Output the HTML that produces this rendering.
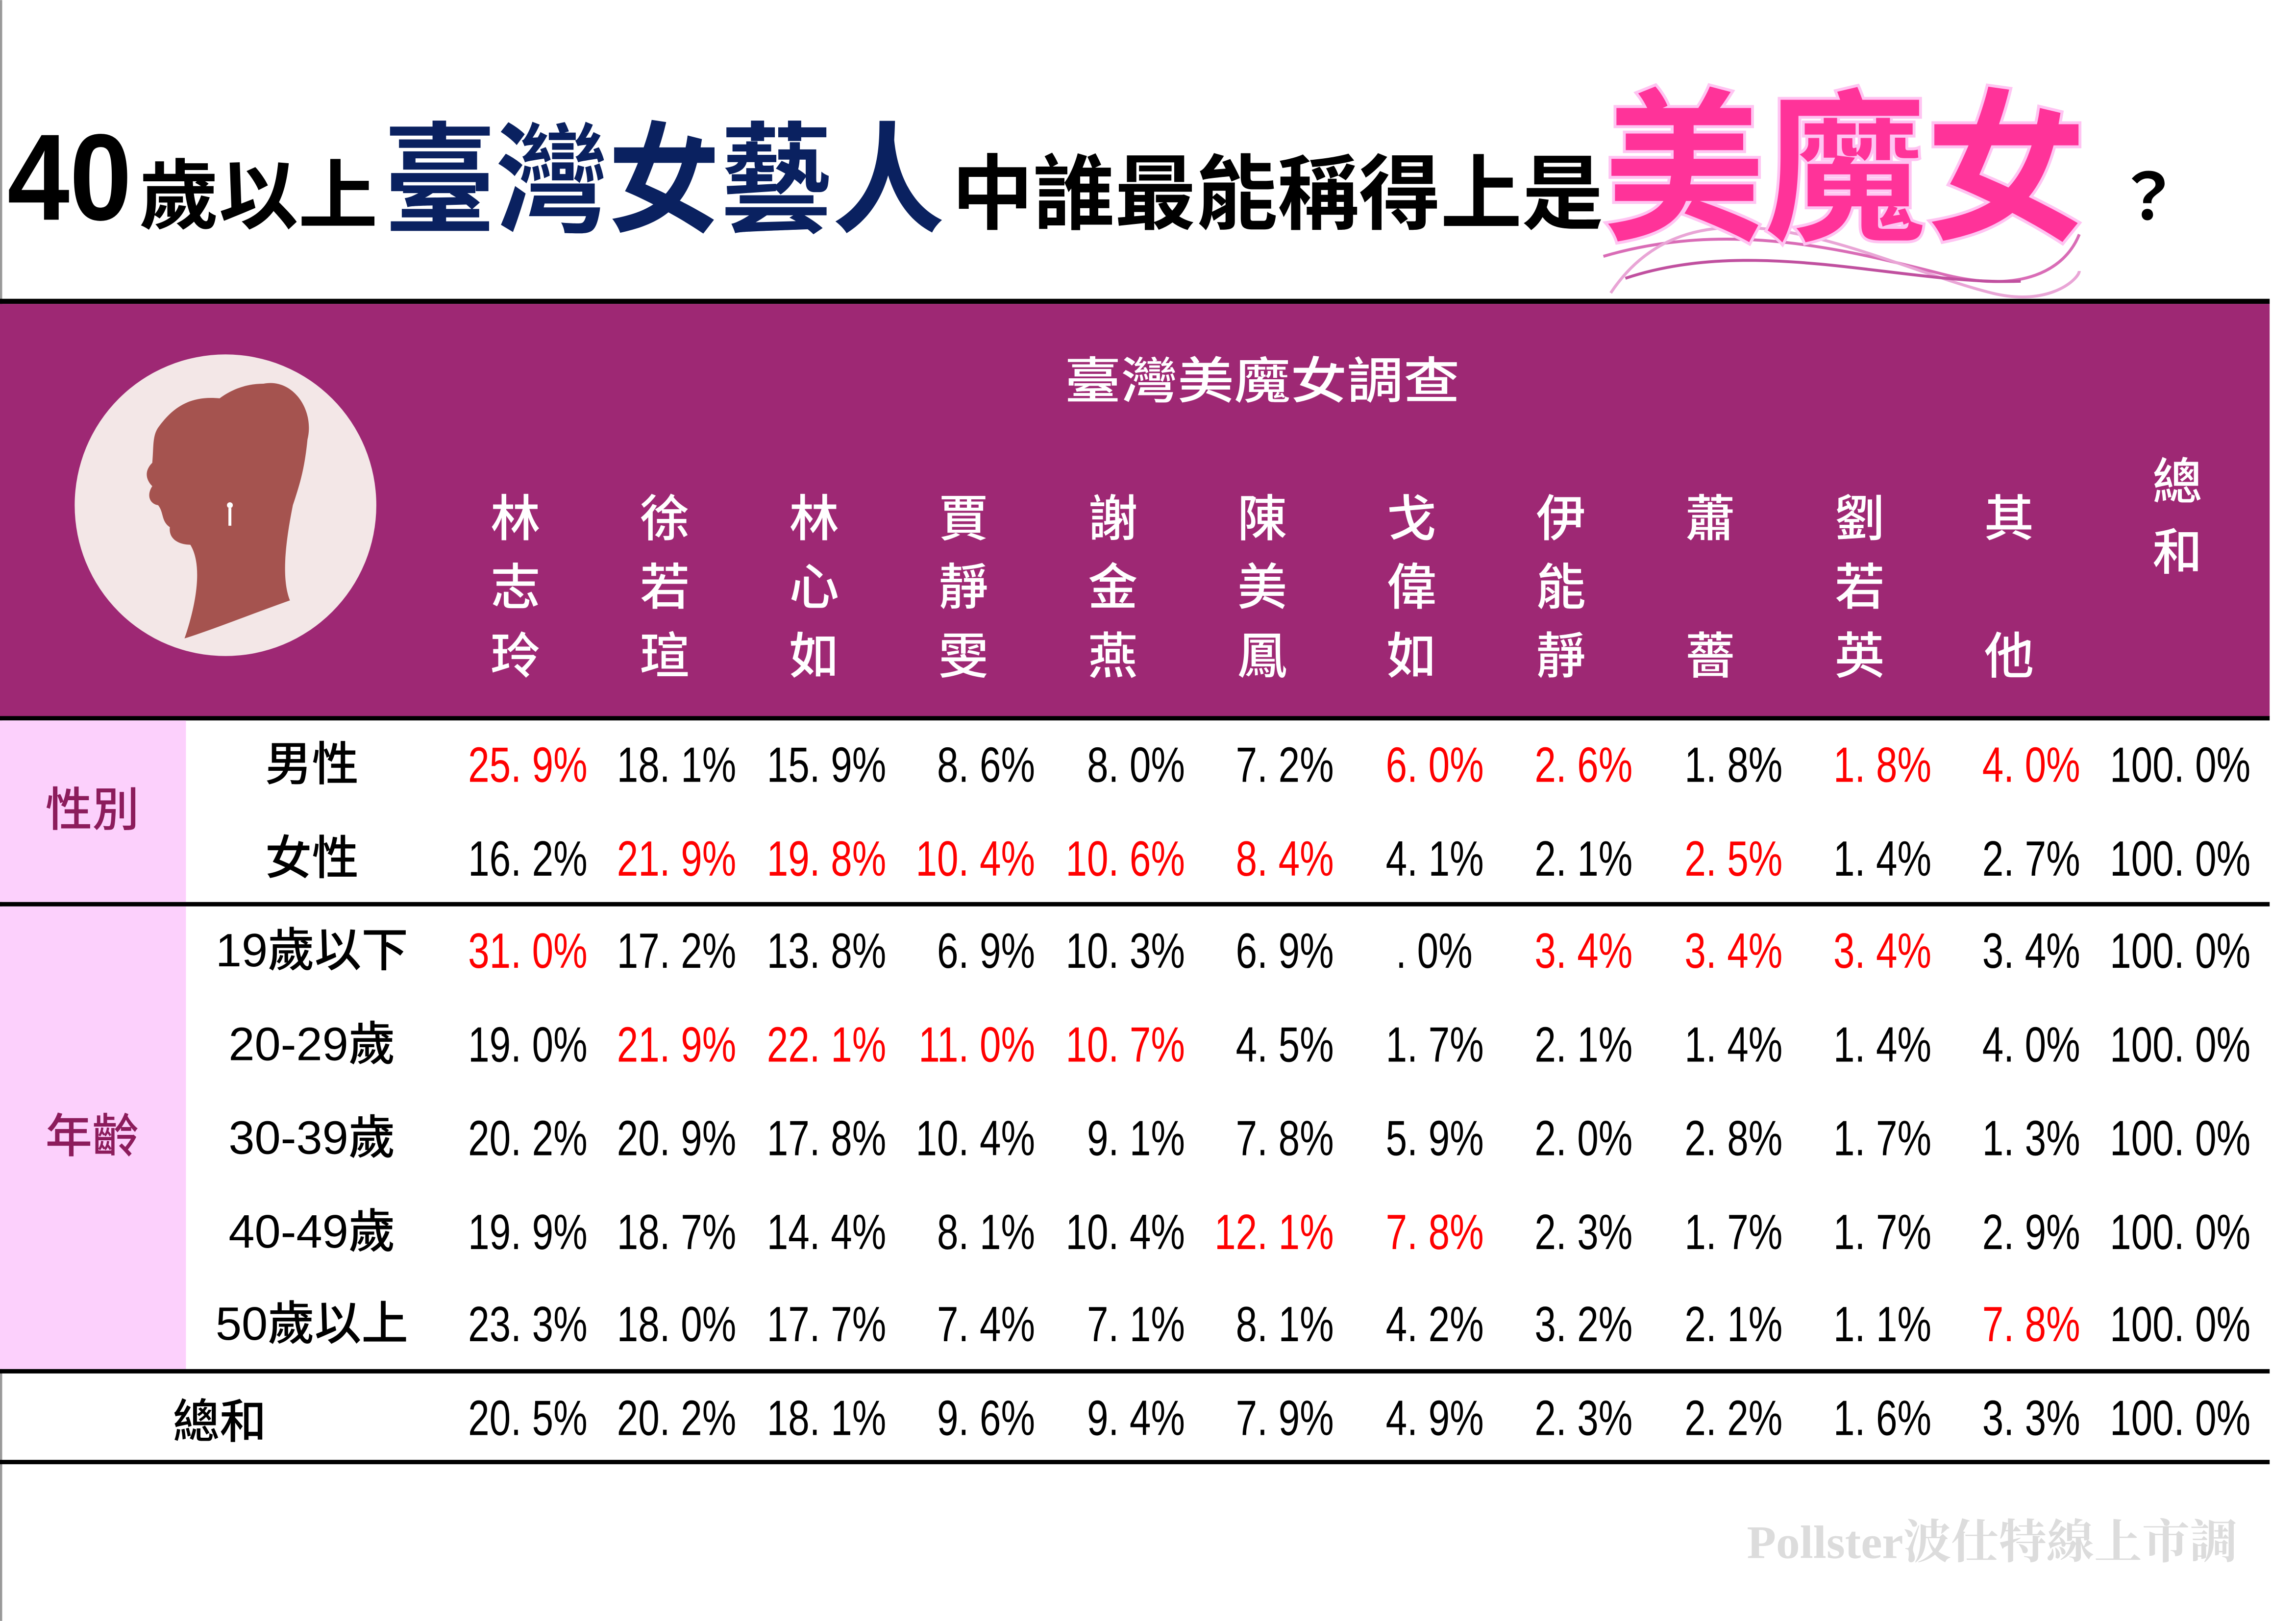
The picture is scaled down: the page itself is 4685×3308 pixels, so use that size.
<!DOCTYPE html>
<html><head><meta charset="utf-8"><style>
html,body{margin:0;padding:0;background:#fff;}
svg{display:block;}
</style></head><body>
<svg width="4685" height="3308" viewBox="0 0 1568 1107" xmlns="http://www.w3.org/2000/svg" font-family="'Liberation Sans','Noto Sans CJK TC',sans-serif">
<rect width="1568" height="1107" fill="#fff"/>
<rect x="0" y="0" width="1.5" height="1107" fill="#999"/>
<!-- title -->
<text x="5" y="150" font-size="84" font-weight="bold" textLength="85" lengthAdjust="spacingAndGlyphs">40</text>
<text x="95" y="152" font-size="52" font-weight="bold" font-family="'Noto Sans CJK TC',sans-serif" textLength="163" lengthAdjust="spacingAndGlyphs">歲以上</text>
<text x="262" y="152" font-size="82" font-weight="bold" fill="#0a2160" font-family="'Noto Sans CJK TC',sans-serif" textLength="383" lengthAdjust="spacingAndGlyphs">臺灣女藝人</text>
<text x="650" y="152" font-size="56" font-weight="bold" font-family="'Noto Sans CJK TC',sans-serif" textLength="445" lengthAdjust="spacingAndGlyphs">中誰最能稱得上是</text>
<g fill="none" stroke-width="2">
<path d="M1095 175 C1180 150 1260 170 1330 188 C1380 200 1410 185 1420 160" stroke="#d96cb6"/>
<path d="M1100 200 C1160 110 1280 180 1360 200 C1400 210 1420 190 1420 185" stroke="#e9a5d6"/>
<path d="M1110 190 C1200 160 1300 195 1380 192" stroke="#c0509f"/>
</g>
<text x="1095" y="155" font-size="112" font-weight="bold" fill="#ff3399" stroke="#ffc4f2" stroke-width="4" paint-order="stroke" font-family="'Noto Sans CJK TC',sans-serif" textLength="330" lengthAdjust="spacingAndGlyphs">美魔女</text>
<text x="1445" y="150" font-size="44" font-weight="bold" font-family="'Noto Sans CJK TC',sans-serif">？</text>
<!-- header band -->
<rect x="0" y="204" width="1550" height="3.5" fill="#000"/>
<rect x="0" y="207.5" width="1550" height="282" fill="#9e2874"/>
<rect x="0" y="489" width="1550" height="3" fill="#000"/>
<circle cx="154" cy="345" r="103" fill="#f3e7e7"/>
<path d="M180 262 C200 258 215 280 210 300 C208 320 205 330 200 345 C195 370 192 395 198 410 C170 420 145 430 126 436 C135 410 138 385 130 372 C122 372 115 368 116 360 C110 356 112 350 108 345 C102 344 100 338 104 332 C100 328 98 322 104 316 C105 305 104 298 108 292 C118 278 130 270 150 272 C158 266 168 262 180 262 Z" fill="#a5534f"/>
<circle cx="157" cy="345" r="2" fill="#fff"/><rect x="156" y="347" width="2" height="12" fill="#fff"/>
<g fill="#fff" font-size="34" font-weight="500" text-anchor="middle" font-family="'Noto Sans CJK TC',sans-serif">
<text x="862" y="272" textLength="270" lengthAdjust="spacingAndGlyphs">臺灣美魔女調查</text>
<text x="352" y="366">林</text><text x="352" y="413">志</text><text x="352" y="460">玲</text>
<text x="454" y="366">徐</text><text x="454" y="413">若</text><text x="454" y="460">瑄</text>
<text x="556" y="366">林</text><text x="556" y="413">心</text><text x="556" y="460">如</text>
<text x="658" y="366">賈</text><text x="658" y="413">靜</text><text x="658" y="460">雯</text>
<text x="760" y="366">謝</text><text x="760" y="413">金</text><text x="760" y="460">燕</text>
<text x="862" y="366">陳</text><text x="862" y="413">美</text><text x="862" y="460">鳳</text>
<text x="964" y="366">戈</text><text x="964" y="413">偉</text><text x="964" y="460">如</text>
<text x="1066" y="366">伊</text><text x="1066" y="413">能</text><text x="1066" y="460">靜</text>
<text x="1168" y="366">蕭</text><text x="1168" y="460">薔</text>
<text x="1270" y="366">劉</text><text x="1270" y="413">若</text><text x="1270" y="460">英</text>
<text x="1372" y="366">其</text><text x="1372" y="460">他</text>
<text x="1487" y="341">總</text><text x="1487" y="389">和</text>
</g>
<!-- table -->
<rect x="0" y="492" width="127" height="124" fill="#fcd0fc"/>
<rect x="0" y="619" width="127" height="316" fill="#fcd0fc"/>
<rect x="0" y="616" width="1550" height="3" fill="#000"/>
<rect x="0" y="935" width="1550" height="3" fill="#000"/>
<rect x="0" y="997" width="1550" height="3" fill="#000"/>
<g fill="#8c1c5c" font-size="32" font-weight="500" text-anchor="middle" font-family="'Noto Sans CJK TC',sans-serif">
<text x="63" y="564">性別</text><text x="63" y="787">年齡</text>
</g>
<g font-size="32" font-weight="500" text-anchor="middle" font-family="'Liberation Sans','Noto Sans CJK TC',sans-serif">
<text x="213" y="533">男性</text><text x="213" y="597">女性</text>
<text x="213" y="660">19歲以下</text><text x="213" y="724">20-29歲</text>
<text x="213" y="788">30-39歲</text><text x="213" y="852">40-49歲</text>
<text x="213" y="915">50歲以上</text><text x="150" y="982">總和</text>
</g>
<g transform="scale(0.77 1)" font-size="34" text-anchor="end">
<g transform="translate(0 534)">
<text x="521" fill="#f00">25. 9%</text><text x="653">18. 1%</text><text x="786">15. 9%</text><text x="918">8. 6%</text><text x="1051">8. 0%</text><text x="1183">7. 2%</text><text x="1316" fill="#f00">6. 0%</text><text x="1448" fill="#f00">2. 6%</text><text x="1581">1. 8%</text><text x="1713" fill="#f00">1. 8%</text><text x="1845" fill="#f00">4. 0%</text><text x="1996">100. 0%</text>
</g>
<g transform="translate(0 598)">
<text x="521">16. 2%</text><text x="653" fill="#f00">21. 9%</text><text x="786" fill="#f00">19. 8%</text><text x="918" fill="#f00">10. 4%</text><text x="1051" fill="#f00">10. 6%</text><text x="1183" fill="#f00">8. 4%</text><text x="1316">4. 1%</text><text x="1448">2. 1%</text><text x="1581" fill="#f00">2. 5%</text><text x="1713">1. 4%</text><text x="1845">2. 7%</text><text x="1996">100. 0%</text>
</g>
<g transform="translate(0 661)">
<text x="521" fill="#f00">31. 0%</text><text x="653">17. 2%</text><text x="786">13. 8%</text><text x="918">6. 9%</text><text x="1051">10. 3%</text><text x="1183">6. 9%</text><text x="1306">. 0%</text><text x="1448" fill="#f00">3. 4%</text><text x="1581" fill="#f00">3. 4%</text><text x="1713" fill="#f00">3. 4%</text><text x="1845">3. 4%</text><text x="1996">100. 0%</text>
</g>
<g transform="translate(0 725)">
<text x="521">19. 0%</text><text x="653" fill="#f00">21. 9%</text><text x="786" fill="#f00">22. 1%</text><text x="918" fill="#f00">11. 0%</text><text x="1051" fill="#f00">10. 7%</text><text x="1183">4. 5%</text><text x="1316">1. 7%</text><text x="1448">2. 1%</text><text x="1581">1. 4%</text><text x="1713">1. 4%</text><text x="1845">4. 0%</text><text x="1996">100. 0%</text>
</g>
<g transform="translate(0 789)">
<text x="521">20. 2%</text><text x="653">20. 9%</text><text x="786">17. 8%</text><text x="918">10. 4%</text><text x="1051">9. 1%</text><text x="1183">7. 8%</text><text x="1316">5. 9%</text><text x="1448">2. 0%</text><text x="1581">2. 8%</text><text x="1713">1. 7%</text><text x="1845">1. 3%</text><text x="1996">100. 0%</text>
</g>
<g transform="translate(0 853)">
<text x="521">19. 9%</text><text x="653">18. 7%</text><text x="786">14. 4%</text><text x="918">8. 1%</text><text x="1051">10. 4%</text><text x="1183" fill="#f00">12. 1%</text><text x="1316" fill="#f00">7. 8%</text><text x="1448">2. 3%</text><text x="1581">1. 7%</text><text x="1713">1. 7%</text><text x="1845">2. 9%</text><text x="1996">100. 0%</text>
</g>
<g transform="translate(0 916)">
<text x="521">23. 3%</text><text x="653">18. 0%</text><text x="786">17. 7%</text><text x="918">7. 4%</text><text x="1051">7. 1%</text><text x="1183">8. 1%</text><text x="1316">4. 2%</text><text x="1448">3. 2%</text><text x="1581">2. 1%</text><text x="1713">1. 1%</text><text x="1845" fill="#f00">7. 8%</text><text x="1996">100. 0%</text>
</g>
<g transform="translate(0 980)">
<text x="521">20. 5%</text><text x="653">20. 2%</text><text x="786">18. 1%</text><text x="918">9. 6%</text><text x="1051">9. 4%</text><text x="1183">7. 9%</text><text x="1316">4. 9%</text><text x="1448">2. 3%</text><text x="1581">2. 2%</text><text x="1713">1. 6%</text><text x="1845">3. 3%</text><text x="1996">100. 0%</text>
</g>
</g>
<text x="1193" y="1064" font-size="32" font-weight="bold" fill="#dcdcdc" font-family="'Liberation Serif','Noto Serif CJK SC',serif" textLength="335" lengthAdjust="spacingAndGlyphs">Pollster波仕特線上市調</text>
</svg>
</body></html>
